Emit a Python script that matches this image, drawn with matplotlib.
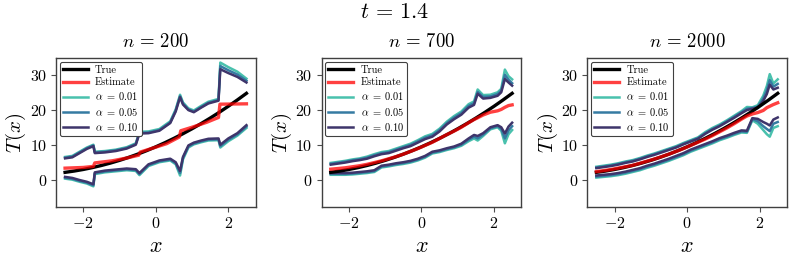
import numpy as np
import matplotlib
matplotlib.use("Agg")
import matplotlib.pyplot as plt

plt.rcParams['font.family'] = 'cmr10'
plt.rcParams['mathtext.fontset'] = 'cm'
plt.rcParams['axes.formatter.use_mathtext'] = True

# true curve (shared)
x_true = [-2.5, -2.25, -2.0, -1.75, -1.5, -1.25, -1.0, -0.75, -0.5, -0.25, 0.0,
          0.25, 0.5, 0.75, 1.0, 1.25, 1.5, 1.75, 2.0, 2.25, 2.5]
t_true = [2.1, 2.47, 2.92, 3.45, 4.06, 4.75, 5.52, 6.37, 7.30, 8.31, 9.4,
          10.57, 11.82, 13.15, 14.56, 16.05, 17.62, 19.27, 21.0, 22.81, 24.7]

# ---- n = 200
x200 = [-2.5, -2.3, -2.1, -1.9, -1.72, -1.68, -1.4, -1.1, -0.8, -0.55, -0.45, -0.2, 0.1,
        0.4, 0.55, 0.67, 0.75, 0.9, 1.05, 1.25, 1.45, 1.73, 1.78, 2.0, 2.25, 2.5]
hi200_01 = [6.5, 6.8, 8.0, 9.2, 10.0, 8.0, 8.2, 8.6, 9.3, 10.4, 13.7, 13.8, 14.5,
            16.7, 20.1, 24.3, 22.1, 20.4, 19.8, 21.1, 22.3, 23.1, 33.5, 32.2, 30.9, 28.9]
hi200_05 = [6.3, 6.6, 7.8, 9.0, 9.8, 7.8, 8.0, 8.4, 9.1, 10.2, 13.4, 13.5, 14.2,
            16.4, 19.8, 23.9, 21.8, 20.1, 19.5, 20.8, 22.0, 22.8, 32.5, 31.3, 30.1, 28.3]
hi200_10 = [6.1, 6.4, 7.6, 8.8, 9.6, 7.6, 7.8, 8.2, 8.9, 10.0, 13.2, 13.3, 14.0,
            16.2, 19.5, 23.6, 21.5, 19.9, 19.3, 20.6, 21.8, 22.6, 31.6, 30.5, 29.4, 27.8]
lo200_10 = [0.8, 0.5, -0.1, -0.6, -1.3, 2.1, 2.6, 2.9, 3.2, 3.0, 1.9, 4.4, 5.5,
            6.0, 5.0, 2.5, 6.5, 9.8, 10.6, 11.2, 11.7, 11.8, 10.0, 11.8, 13.3, 15.6]
lo200_05 = [0.55, 0.25, -0.35, -0.85, -1.6, 1.85, 2.35, 2.65, 2.95, 2.75, 1.6, 4.15, 5.25,
            5.75, 4.7, 1.9, 6.2, 9.5, 10.35, 10.95, 11.45, 11.55, 9.6, 11.4, 12.95, 15.2]
lo200_01 = [0.3, 0.0, -0.6, -1.1, -1.9, 1.6, 2.1, 2.4, 2.7, 2.5, 1.3, 3.9, 5.0,
            5.5, 4.4, 1.2, 5.8, 9.2, 10.1, 10.7, 11.2, 11.3, 9.2, 11.0, 12.6, 14.8]
xe200 = [-2.5, -2.0, -1.72, -1.68, -1.2, -0.8, -0.47, -0.43, 0.0, 0.3, 0.65, 0.69,
         1.0, 1.4, 1.73, 1.77, 2.5]
est200 = [3.3, 3.5, 3.8, 4.8, 5.4, 6.2, 7.0, 7.9, 9.3, 10.3, 12.2, 14.0,
          15.0, 16.4, 17.8, 21.6, 21.7]

# ---- n = 700
x700 = [-2.5, -2.3, -2.1, -1.9, -1.7, -1.5, -1.3, -1.1, -0.9, -0.7, -0.5, -0.3, -0.1, 0.1,
        0.3, 0.5, 0.7, 0.9, 1.1, 1.3, 1.45, 1.55, 1.7, 1.9, 2.1, 2.2, 2.3, 2.4, 2.5]
hi700_01 = [4.8, 5.1, 5.4, 5.8, 6.1, 6.6, 7.3, 7.9, 8.2, 8.9, 9.6, 10.3, 11.3, 12.4,
            13.1, 14.6, 16.6, 18.2, 19.5, 21.6, 22.4, 25.8, 24.2, 24.3, 25.0, 26.0, 31.5, 29.6, 28.7]
hi700_05 = [4.55, 4.85, 5.15, 5.55, 5.85, 6.3, 7.0, 7.6, 7.9, 8.6, 9.3, 9.95, 10.95, 12.0,
            12.7, 14.2, 16.2, 17.75, 19.05, 21.1, 21.9, 25.1, 23.7, 23.8, 24.5, 25.5, 30.0, 28.6, 27.6]
hi700_10 = [4.3, 4.6, 4.9, 5.3, 5.6, 6.0, 6.7, 7.3, 7.6, 8.3, 9.0, 9.6, 10.6, 11.6,
            12.3, 13.8, 15.8, 17.3, 18.6, 20.6, 21.4, 24.6, 23.2, 23.4, 24.0, 25.0, 28.8, 27.8, 26.9]
lo700_10 = [1.9, 1.9, 1.9, 2.0, 2.2, 2.4, 2.7, 4.0, 4.3, 4.7, 5.0, 5.4, 6.0, 6.8,
            8.0, 8.4, 9.0, 9.5, 10.3, 11.8, 12.8, 12.5, 13.3, 15.0, 15.6, 15.0, 13.2, 15.2, 16.3]
lo700_05 = [1.65, 1.65, 1.65, 1.75, 1.95, 2.15, 2.45, 3.75, 4.05, 4.45, 4.75, 5.15, 5.75, 6.55,
            7.75, 8.15, 8.75, 9.25, 10.0, 11.4, 12.3, 11.8, 12.9, 14.7, 15.3, 14.5, 11.8, 14.1, 15.3]
lo700_01 = [1.4, 1.4, 1.4, 1.5, 1.7, 1.9, 2.2, 3.5, 3.8, 4.2, 4.5, 4.9, 5.5, 6.3,
            7.5, 7.9, 8.5, 9.0, 9.7, 11.0, 11.8, 11.2, 12.5, 14.4, 15.0, 14.0, 10.4, 13.0, 14.2]
est700 = [3.0, 3.2, 3.4, 3.7, 4.0, 4.4, 4.9, 5.4, 6.0, 6.6, 7.3, 8.1, 8.9, 9.8,
          10.7, 11.8, 12.9, 13.9, 15.0, 16.3, 17.2, 17.7, 18.5, 19.3, 19.7, 20.1, 20.7, 21.2, 21.4]

# ---- n = 2000
x2000 = [-2.5, -2.3, -2.1, -1.9, -1.7, -1.5, -1.3, -1.1, -0.9, -0.7, -0.5, -0.3, -0.1, 0.1,
         0.3, 0.5, 0.7, 0.9, 1.1, 1.3, 1.5, 1.65, 1.8, 1.95, 2.1, 2.2, 2.28, 2.38, 2.5]
hi2000_01 = [3.7, 4.0, 4.3, 4.7, 5.2, 5.6, 6.2, 6.9, 7.5, 8.2, 8.9, 9.6, 10.5, 11.3,
             12.1, 13.6, 14.8, 15.8, 17.0, 18.3, 19.6, 20.8, 20.7, 21.3, 24.0, 26.8, 30.2, 27.5, 28.7]
hi2000_05 = [3.5, 3.8, 4.1, 4.5, 5.0, 5.4, 6.0, 6.7, 7.3, 8.0, 8.7, 9.4, 10.3, 11.1,
             11.9, 13.3, 14.5, 15.5, 16.7, 18.0, 19.3, 20.3, 20.5, 20.9, 23.2, 25.6, 28.5, 26.6, 27.4]
hi2000_10 = [3.3, 3.6, 3.9, 4.3, 4.8, 5.2, 5.8, 6.5, 7.1, 7.8, 8.5, 9.2, 10.1, 10.9,
             11.7, 13.1, 14.3, 15.3, 16.5, 17.7, 19.0, 19.9, 20.3, 20.5, 22.5, 24.5, 27.2, 25.8, 26.3]
lo2000_10 = [1.2, 1.4, 1.6, 1.9, 2.3, 2.8, 3.3, 4.0, 4.6, 5.3, 6.0, 6.8, 7.6, 8.6,
             9.4, 10.2, 11.0, 11.9, 12.6, 13.4, 14.1, 14.0, 17.6, 17.4, 16.5, 16.0, 15.5, 17.2, 17.8]
lo2000_05 = [0.9, 1.1, 1.3, 1.6, 2.0, 2.5, 3.0, 3.7, 4.3, 5.0, 5.7, 6.5, 7.3, 8.3,
             9.1, 9.9, 10.7, 11.6, 12.3, 13.1, 13.8, 13.7, 17.3, 16.7, 15.3, 14.5, 13.9, 16.0, 16.5]
lo2000_01 = [0.6, 0.8, 1.0, 1.3, 1.7, 2.2, 2.7, 3.4, 4.0, 4.7, 5.4, 6.2, 7.0, 8.0,
             8.8, 9.6, 10.4, 11.3, 12.0, 12.8, 13.5, 13.4, 17.0, 16.0, 14.2, 13.0, 12.3, 14.8, 15.3]
est2000 = [2.3, 2.6, 2.9, 3.3, 3.7, 4.1, 4.7, 5.3, 5.9, 6.6, 7.3, 8.1, 8.9, 9.8,
           10.7, 11.6, 12.6, 13.7, 14.8, 16.0, 17.3, 18.2, 18.8, 19.2, 19.8, 20.6, 21.0, 21.5, 22.0]

alphas = ['0.01', '0.05', '0.10']
band_colors = ['#49C1AD', '#357BA2', '#3E356B']

panels = [
    ('200', x200, xe200, est200, [(lo200_01, hi200_01), (lo200_05, hi200_05), (lo200_10, hi200_10)]),
    ('700', x700, x700, est700, [(lo700_01, hi700_01), (lo700_05, hi700_05), (lo700_10, hi700_10)]),
    ('2000', x2000, x2000, est2000, [(lo2000_01, hi2000_01), (lo2000_05, hi2000_05), (lo2000_10, hi2000_10)]),
]

W, H = 789, 259
fig = plt.figure(figsize=(W / 100, H / 100), dpi=100)
lefts = [56, 321.7, 587.3]

for i, (n, xb, xe, est, bands) in enumerate(panels):
    ax = fig.add_axes([lefts[i] / W, 0.1996, 199.5 / W, 0.575])
    handles = []
    for (lo, hi), a, c in zip(bands, alphas, band_colors):
        h, = ax.plot(xb, hi, color=c, lw=1.8, label=r'$\alpha\;=\;%s$' % a)
        ax.plot(xb, lo, color=c, lw=1.8)
        handles.append(h)
    ht, = ax.plot(x_true, t_true, color='black', lw=2.4, label='True')
    he, = ax.plot(xe, est, color='red', lw=2.4, alpha=0.75, label='Estimate')
    handles = [ht, he] + handles

    ax.set_xlim(-2.75, 2.75)
    ax.set_ylim(-7.9, 34.7)
    ax.set_xticks([-2, 0, 2])
    ax.set_yticks([0, 10, 20, 30])
    ax.tick_params(labelsize=11.5, length=3.5, width=0.8, color='0.3', pad=3)
    for s in ax.spines.values():
        s.set_color('0.25')
        s.set_linewidth(1.0)
    ax.set_title(r'$n\,=\,%s$' % n, fontsize=13.5, pad=8)
    ax.set_xlabel(r'$x$', fontsize=16, labelpad=4)
    ax.set_ylabel(r'$T(x)$', fontsize=15, labelpad=1)
    leg = ax.legend(handles=handles, loc='upper left', fontsize=7.5, handlelength=2.4,
                    handletextpad=0.7, labelspacing=0.3, borderaxespad=0.35,
                    borderpad=0.3, framealpha=1.0, edgecolor='0.25', fancybox=True)
    leg.get_frame().set_linewidth(0.8)

fig.suptitle(r'$t\,=\,1.4$', fontsize=16, y=0.99)
fig.savefig('out.png', dpi=100)
